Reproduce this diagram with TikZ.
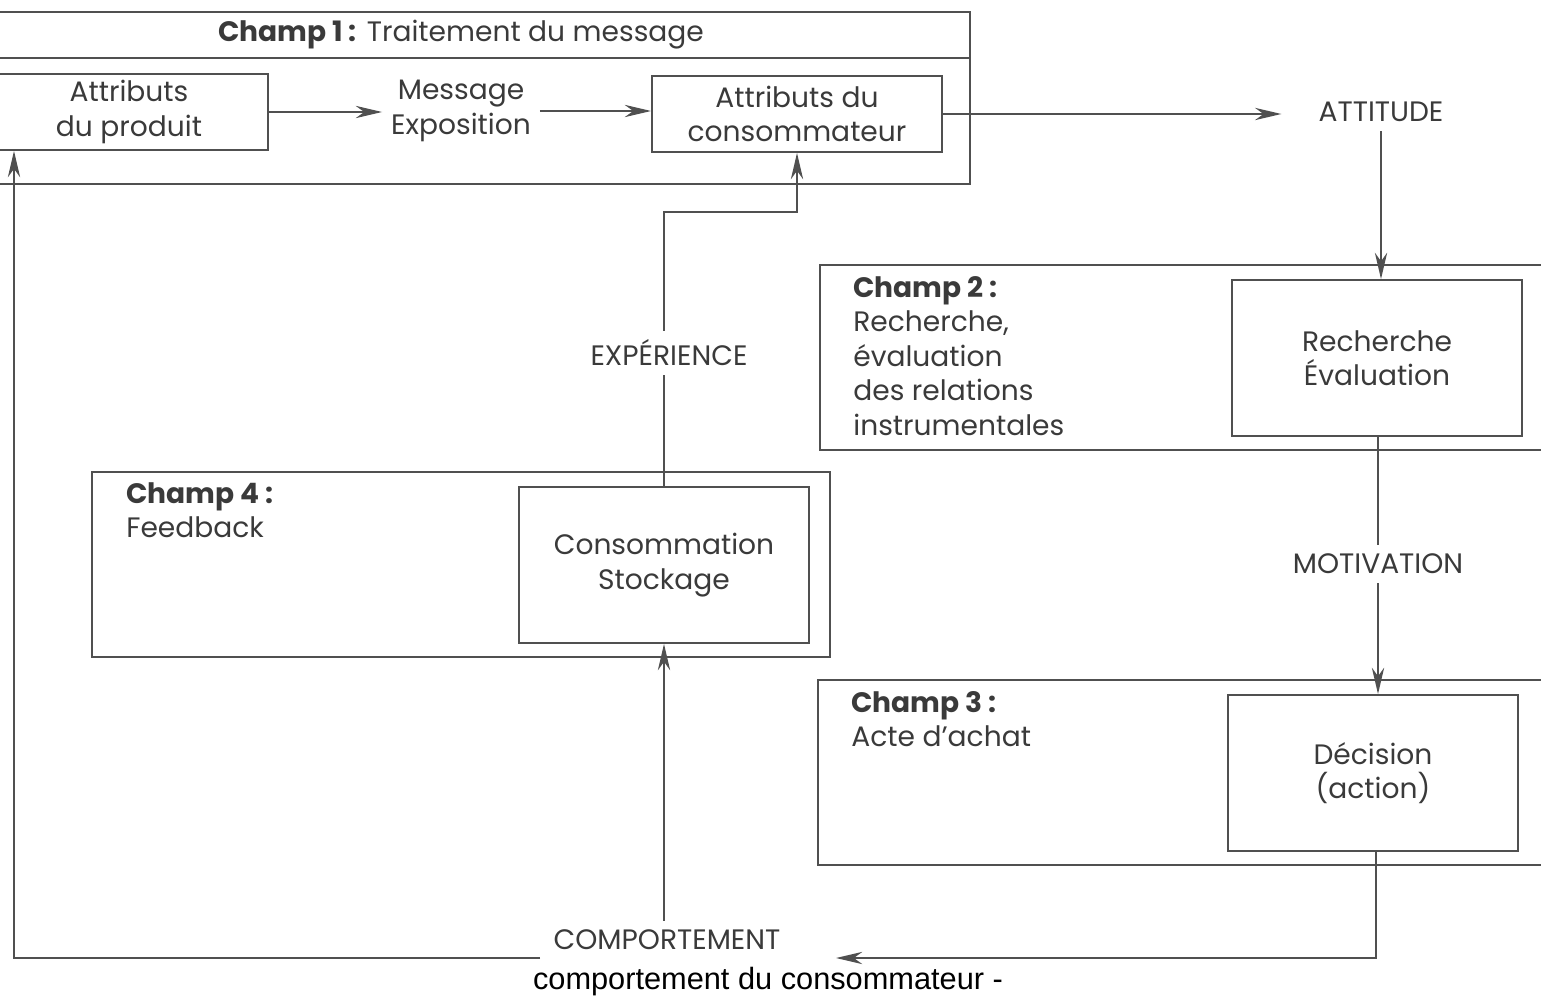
\documentclass[tikz,border=0pt]{standalone}
\usepackage{fontspec}
\setmainfont{Poppins}
\newfontfamily\capfont{Liberation Sans}
\usetikzlibrary{arrows.meta}
\definecolor{trait}{HTML}{505050}
\definecolor{encre}{HTML}{3A3A3A}
\tikzset{
  champ/.style={draw=trait, line width=1.6pt, inner sep=0pt},
  boite/.style={draw=trait, line width=1.1pt, inner sep=0pt, align=center, text=encre,
    minimum width=5.8cm, minimum height=3.12cm, font=\fontsize{16}{19.6}\selectfont},
  lab/.style={text=encre, align=center, inner sep=5pt, font=\fontsize{16}{19.6}\selectfont},
  fleche/.style={draw=trait, line width=1pt, -{Stealth[length=15pt,width=7pt]}},
  ligne/.style={draw=trait, line width=1pt},
}
\begin{document}
\begin{tikzpicture}[x=0.02cm, y=-0.02cm]
  \useasboundingbox (0,0) rectangle (1541,997);
  \node[champ, minimum width=19.6cm, minimum height=0.92cm] (titre) at (480,35) {};
  \node[champ, minimum width=19.6cm, minimum height=2.52cm] (champ1) at (480,121) {};
  \node[lab] (t1) at (461,35) {\textbf{Champ 1 :} Traitement du message};
  \node[boite, minimum width=5.56cm, minimum height=1.52cm] (produit) at (129,112) {Attributs\\du produit};
  \node[lab] (message) at (461,111) {Message\\Exposition};
  \node[boite, minimum height=1.52cm] (consom) at (797,114) {Attributs du\\consommateur};
  \node[lab] (attitude) at (1381,112) {ATTITUDE};

  \node[champ, minimum width=14.8cm, minimum height=3.7cm] (champ2) at (1190,357.5) {};
  \node[boite] (rech) at (1377,358) {Recherche\\Évaluation};
  \node[lab, align=left, anchor=west, inner sep=0pt] (t2) at (853,356)
    {\textbf{Champ 2 :}\\Recherche,\\évaluation\\des relations\\instrumentales};
  \node[lab] (motivation) at (1378,564) {MOTIVATION};

  \node[champ, minimum width=14.84cm, minimum height=3.7cm] (champ3) at (1189,772.5) {};
  \node[boite] (decision) at (1373,773) {Décision\\(action)};
  \node[lab, align=left, anchor=west, inner sep=0pt] (t3) at (851,719)
    {\textbf{Champ 3 :}\\Acte d’achat};

  \node[champ, minimum width=14.76cm, minimum height=3.7cm] (champ4) at (461,564.5) {};
  \node[boite] (conso) at (664,565) {Consommation\\Stockage};
  \node[lab, align=left, anchor=west, inner sep=0pt] (t4) at (126,510)
    {\textbf{Champ 4 :}\\Feedback};
  \node[lab] (experience) at (669,353) {EXPÉRIENCE};

  \node[lab] (comportement) at (667,940) {COMPORTEMENT};
  \node[inner sep=0pt, font=\capfont\fontsize{17.5}{20}\selectfont] (legende) at (768,982)
    {comportement du consommateur -};

  \coordinate (c1) at (1376,958);
  \coordinate (c2) at (836,958);
  \coordinate (c3) at (540,958);
  \coordinate (c4) at (14,958);
  \coordinate (c5) at (664,212);
  \begin{scope}[fleche]
    \draw (produit.east) -- (produit.east -| message.west);
    \draw (message.east) -- (message.east -| consom.west);
    \draw[shorten >=16pt] (consom.east) -- (consom.east -| attitude.west);
    \draw (attitude.south) -- (attitude.south |- rech.north);
    \draw (motivation.south) -- (motivation.south |- decision.north);
    \draw (decision.south -| c1) -- (c1) -- (c2);
    \draw (comportement.north -| conso.south) -- (conso.south);
    \draw (c3) -- (c4) -- (produit.south -| c4);
    \draw (experience.north -| c5) -- (c5) -| (consom.south);
  \end{scope}
  \begin{scope}[ligne]
    \draw (rech.south -| motivation) -- (motivation.north);
    \draw (conso.north) -- (conso.north |- experience.south);
  \end{scope}
\end{tikzpicture}
\end{document}
